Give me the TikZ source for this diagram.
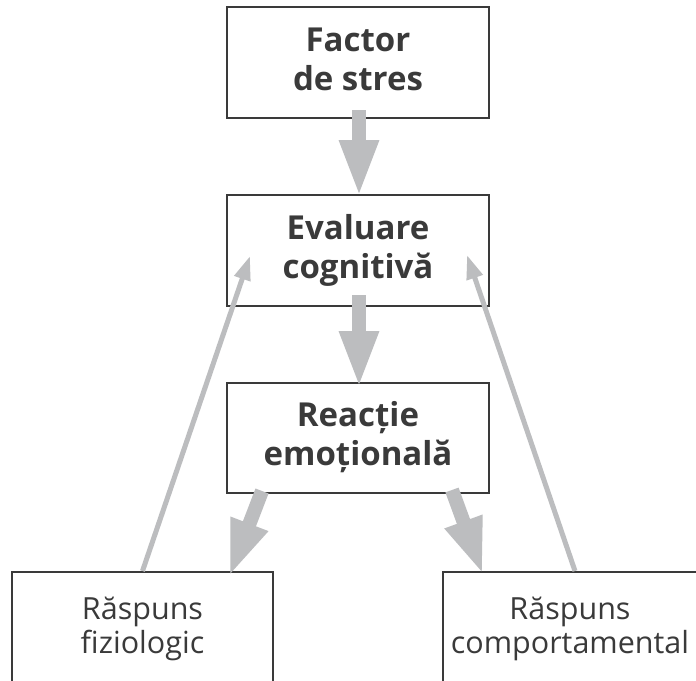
\documentclass[tikz,border=0pt]{standalone}
\usepackage{fontspec}
\setmainfont{Open Sans}
\usetikzlibrary{arrows.meta,calc}
\definecolor{arrowgray}{HTML}{BCBDBF}
\definecolor{linegray}{HTML}{3A3A3A}
\definecolor{textgray}{HTML}{3A3A3A}
\begin{document}
\begin{tikzpicture}[x=1pt,y=-1pt,
  box/.style={draw=linegray, line width=1.5pt, text=textgray, align=center, inner sep=0pt},
  topbox/.style={box, minimum width=262pt, minimum height=111pt, text height=63pt, text depth=8pt, font=\fontsize{33}{39}\selectfont\bfseries},
  lowbox/.style={box, minimum height=114pt, anchor=north, text height=56pt, text depth=6pt, font=\fontsize{30.5}{34}\selectfont},
  bigarrow/.style={draw=arrowgray, line width=14pt, -{Triangle[length=57pt,width=36pt,fill=arrowgray]}},
  thinarrow/.style={draw=arrowgray, line width=5pt, -{Triangle[length=24pt,width=16pt,fill=arrowgray]}}]
\clip (0,0) rectangle (696,680);
\fill[white] (0,0) rectangle (696,680);
\node[topbox] (b1) at (358,62.5) {Factor\\de stres};
\node[topbox] (b2) at (358,250.5) {Evaluare\\cognitivă};
\node[topbox, minimum height=110pt] (b3) at (358,438) {Reacție\\emoțională};
\node[lowbox, minimum width=261pt] (b4) at (142.5,571) {Răspuns\\fiziologic};
\node[lowbox, minimum width=254pt] (b5) at (570,571) {Răspuns\\comportamental};
\coordinate (a1s) at (359,110); \coordinate (a1e) at (359,197);
\coordinate (a2s) at (359,295); \coordinate (a2e) at (359,388);
\coordinate (a3s) at (262,491); \coordinate (a3e) at (229,577);
\coordinate (a4s) at (452,490); \coordinate (a4e) at (483,575);
\coordinate (t1) at (250,256); \coordinate (t2) at (467,255);
\coordinate (s2) at (575,571);
\draw[bigarrow] (a1s) -- (a1e);
\draw[bigarrow] (a2s) -- (a2e);
\draw[bigarrow] (a3s) -- (a3e);
\draw[bigarrow] (a4s) -- (a4e);
\draw[thinarrow] (b4.north) -- (t1);
\draw[thinarrow] (s2) -- (t2);
\end{tikzpicture}
\end{document}
